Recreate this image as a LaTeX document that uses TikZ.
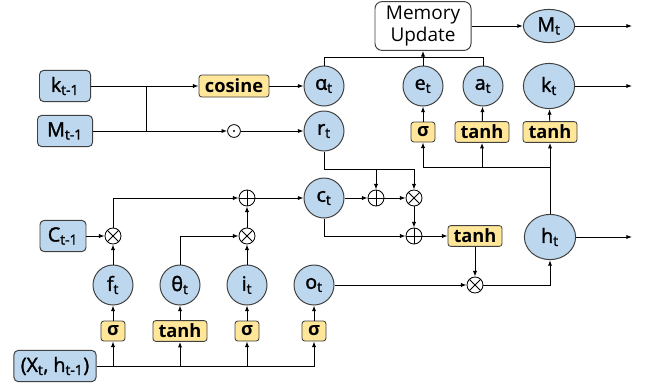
\documentclass[tikz,border=0pt]{standalone}
\usepackage{fontspec}
\setmainfont{Open Sans}
\newfontfamily\labelfont[FakeBold=1.6]{Open Sans}
\usetikzlibrary{arrows.meta,shapes.geometric}

\definecolor{cellblue}{HTML}{BDD7EE}
\definecolor{gateyellow}{HTML}{FFE699}
\definecolor{edgegray}{HTML}{404040}

\tikzset{
	state/.style={circle,draw=edgegray,fill=cellblue,line width=0.7pt,minimum size=1cm,inner sep=0pt},
	bigstate/.style={ellipse,draw=edgegray,fill=cellblue,line width=0.7pt,minimum width=1.28cm,minimum height=1.13cm,inner sep=0pt},
	inbox/.style={rectangle,rounded corners=3pt,draw=edgegray,fill=cellblue,line width=0.7pt,minimum height=0.78cm,inner sep=1pt},
	membox/.style={rectangle,rounded corners=5pt,draw=edgegray,fill=white,line width=0.7pt,minimum width=2.4cm,minimum height=1.22cm,align=center,inner sep=1pt},
	act/.style={rectangle,rounded corners=2pt,draw=edgegray,fill=gateyellow,line width=0.6pt,minimum height=0.52cm,inner sep=1pt,font=\fontsize{13}{15}\selectfont\bfseries},
	op/.style={circle,draw=black,line width=0.6pt,minimum size=0.4cm,inner sep=0pt},
	plusop/.style={op,path picture={\draw[line width=0.6pt] (path picture bounding box.north) -- (path picture bounding box.south)
		(path picture bounding box.west) -- (path picture bounding box.east);}},
	timesop/.style={op,path picture={\draw[line width=0.6pt] (path picture bounding box.north west) -- (path picture bounding box.south east)
		(path picture bounding box.south west) -- (path picture bounding box.north east);}},
	flow/.style={-{Latex[length=4pt,width=3pt]}},
}

\begin{document}
\begin{tikzpicture}[x=0.025cm,y=-0.025cm,line width=0.7pt,font=\fontsize{14}{16}\selectfont\labelfont]
	\useasboundingbox (0,0) rectangle (648,383);
	% inputs
	\node[inbox,minimum width=1.275cm] (kprev) at (65,86) {k\textsubscript{t-1}};
	\node[inbox,minimum width=1.375cm] (Mprev) at (65,131) {M\textsubscript{t-1}};
	\node[inbox,minimum width=1.15cm] (Cprev) at (63,236) {C\textsubscript{t-1}};
	\node[inbox,minimum width=2.05cm] (xh) at (55,366) {(X\textsubscript{t}, h\textsubscript{t-1})};
	% addressing
	\node[act,minimum width=1.75cm,minimum height=0.55cm] (cos) at (234,86) {cosine};
	\node[op,minimum size=0.32cm] (dot) at (234,131) {};
	\fill (dot) circle (0.8pt);
	\node[state] (alpha) at (324,86) {α\textsubscript{t}};
	\node[state] (r) at (324,131) {r\textsubscript{t}};
	\node[state] (e) at (423,86) {e\textsubscript{t}};
	\node[state] (a) at (483,86) {a\textsubscript{t}};
	\node[bigstate] (k) at (549,86) {k\textsubscript{t}};
	\node[bigstate,minimum height=0.83cm] (M) at (549,26) {M\textsubscript{t}};
	\node[membox,font=\fontsize{13.5}{16}\selectfont] (mem) at (423,26) {Memory\\Update};
	\node[act,minimum width=0.6cm,minimum height=0.5cm] (sige) at (423,132) {σ};
	\node[act,minimum width=1.35cm] (tanha) at (482,132) {tanh};
	\node[act,minimum width=1.35cm] (tanhk) at (550,132) {tanh};
	\node[bigstate] (h) at (550,237) {h\textsubscript{t}};
	% cell
	\node[state] (c) at (324,198) {c\textsubscript{t}};
	\node[plusop] (pc) at (376,198) {};
	\node[timesop] (tc) at (414,198) {};
	\node[plusop] (pm) at (414,236) {};
	\node[act,minimum width=1.35cm] (tanhc) at (475,236) {tanh};
	\node[timesop] (to) at (475,285) {};
	% gates
	\node[state] (f) at (113,285) {f\textsubscript{t}};
	\node[state] (theta) at (180,285) {θ\textsubscript{t}};
	\node[state] (i) at (247,285) {i\textsubscript{t}};
	\node[state] (o) at (314,285) {o\textsubscript{t}};
	\node[timesop] (tf) at (113,236) {};
	\node[timesop] (ti) at (247,236) {};
	\node[plusop] (pi) at (247,198) {};
	\node[act,minimum width=0.6cm,minimum height=0.5cm] (sigf) at (113,331) {σ};
	\node[act,minimum width=1.35cm] (tanhth) at (180,331) {tanh};
	\node[act,minimum width=0.6cm,minimum height=0.5cm] (sigi) at (247,331) {σ};
	\node[act,minimum width=0.6cm,minimum height=0.5cm] (sigo) at (314,331) {σ};
	% free ends
	\coordinate (split) at (146,86);
	\coordinate (splitlow) at (146,131);
	\coordinate (Mout) at (632,26);
	\coordinate (kout) at (632,86);
	\coordinate (hout) at (632,237);
	\coordinate (hbus) at (550,167);
	\coordinate (rbus) at (324,169);
	% addressing lines
	\draw[flow] (kprev) -- (cos);
	\draw (split) -- (splitlow);
	\draw[flow] (Mprev) -- (dot);
	\draw[flow] (cos) -- (alpha);
	\draw[flow] (dot) -- (r);
	\draw (alpha.north) -- ++(0,-8) -| (a.north);
	\draw[flow] (e.north) -- (mem.south);
	\draw[flow] (mem) -- (M);
	\draw[flow] (M) -- (Mout);
	\draw[flow] (k) -- (kout);
	\draw[flow] (h) -- (hout);
	\draw[flow] (sige) -- (e);
	\draw[flow] (tanha) -- (a);
	\draw[flow] (tanhk) -- (k);
	\draw[flow] (h.north) -- (tanhk.south);
	\draw[flow] (hbus) -| (sige.south);
	\draw[flow] (tanha.south |- hbus) -- (tanha.south);
	% cell lines
	\draw[flow] (r.south) -- (rbus) -| (tc.north);
	\draw[flow] (pc.north |- rbus) -- (pc.north);
	\draw[flow] (c) -- (pc);
	\draw[flow] (pc) -- (tc);
	\draw[flow] (tc) -- (pm);
	\draw[flow] (c.south) |- (pm.west);
	\draw[flow] (pm) -- (tanhc);
	\draw[flow] (tanhc) -- (to);
	\draw[flow] (o) -- (to);
	\draw[flow] (to) -| (h.south);
	% gate lines
	\draw[flow] (Cprev) -- (tf);
	\draw[flow] (f) -- (tf);
	\draw[flow] (tf.north) |- (pi.west);
	\draw[flow] (pi) -- (c);
	\draw[flow] (theta.north) |- (ti.west);
	\draw[flow] (i) -- (ti);
	\draw[flow] (ti) -- (pi);
	\foreach \g/\s in {f/sigf,theta/tanhth,i/sigi,o/sigo}
		\draw[flow] (\s) -- (\g);
	\draw[flow] (xh.east) -| (sigo.south);
	\foreach \s in {sigf,tanhth,sigi}
		\draw[flow] (\s.south |- xh.east) -- (\s.south);
\end{tikzpicture}
\end{document}
